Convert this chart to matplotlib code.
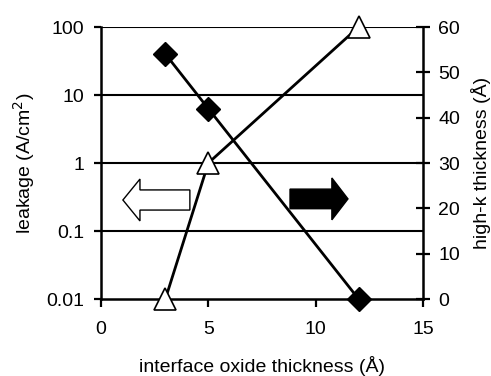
import matplotlib
matplotlib.use("Agg")
import matplotlib.pyplot as plt
from matplotlib.patches import Polygon

plt.rcParams['font.family'] = ['Liberation Sans', 'DejaVu Sans']
plt.rcParams['font.size'] = 14

x_leak = [3, 5, 12]
leakage = [40, 6.3, 0.01]
x_hk = [3, 5, 12]
highk = [0, 30, 60]

fig = plt.figure(figsize=(4.91, 3.76), dpi=100)
ax = fig.add_axes([101/491, 1-299/376, 322/491, 272/376])
ax.set_yscale('log')
ax.set_ylim(0.01, 100)
ax.set_xlim(0, 15)
ax.set_xticks([0, 5, 10, 15])
ax.set_yticks([0.01, 0.1, 1, 10, 100])
ax.set_yticklabels(['0.01', '0.1', '1', '10', '100'])
ax.yaxis.set_minor_locator(matplotlib.ticker.NullLocator())
for v in [0.1, 1, 10, 100]:
    ax.axhline(v, color='black', lw=1.5, zorder=1)
for s in ['top', 'right']:
    ax.spines[s].set_visible(False)
for s in ['left', 'bottom']:
    ax.spines[s].set_linewidth(1.8)
ax.tick_params(axis='y', direction='out', length=5, width=1.6, labelsize=14, pad=7)
ax.tick_params(axis='x', direction='out', length=5.5, width=1.6, labelsize=14, pad=10)

ax.plot(x_leak, leakage, color='black', lw=2, marker='D', ms=12,
        mfc='black', mec='black', zorder=5, clip_on=False)

ax2 = ax.twinx()
ax2.set_ylim(0, 60)
ax2.set_yticks([0, 10, 20, 30, 40, 50, 60])
for s in ['top', 'left', 'bottom']:
    ax2.spines[s].set_visible(False)
ax2.spines['right'].set_linewidth(1.8)
ax2.tick_params(axis='y', direction='inout', length=10, width=1.6, labelsize=14, pad=6)
ax2.plot(x_hk, highk, color='black', lw=2, marker='^', ms=16,
         mfc='white', mec='black', mew=1.2, zorder=5, clip_on=False)

ax.set_xlabel('interface oxide thickness (Å)', fontsize=14, labelpad=13)
ax.set_ylabel('leakage (A/cm$^2$)', fontsize=14, labelpad=7)
ax2.set_ylabel('high-k thickness (Å)', fontsize=14, labelpad=8)

def arrow(x0, x1, yc, bh, hh, hl, fc):
    d = 1 if x1 > x0 else -1
    xb = x1 - d * hl
    pts = [(x0, yc - bh), (xb, yc - bh), (xb, yc - hh), (x1, yc),
           (xb, yc + hh), (xb, yc + bh), (x0, yc + bh)]
    p = Polygon(pts, closed=True, transform=ax2.transAxes, facecolor=fc,
                edgecolor='black', lw=1.0, zorder=6)
    ax2.add_patch(p)

arrow(0.276, 0.068, 0.364, 0.037, 0.077, 0.053, 'white')
arrow(0.587, 0.767, 0.368, 0.036, 0.077, 0.05, 'black')

fig.savefig('out.png', dpi=100)
